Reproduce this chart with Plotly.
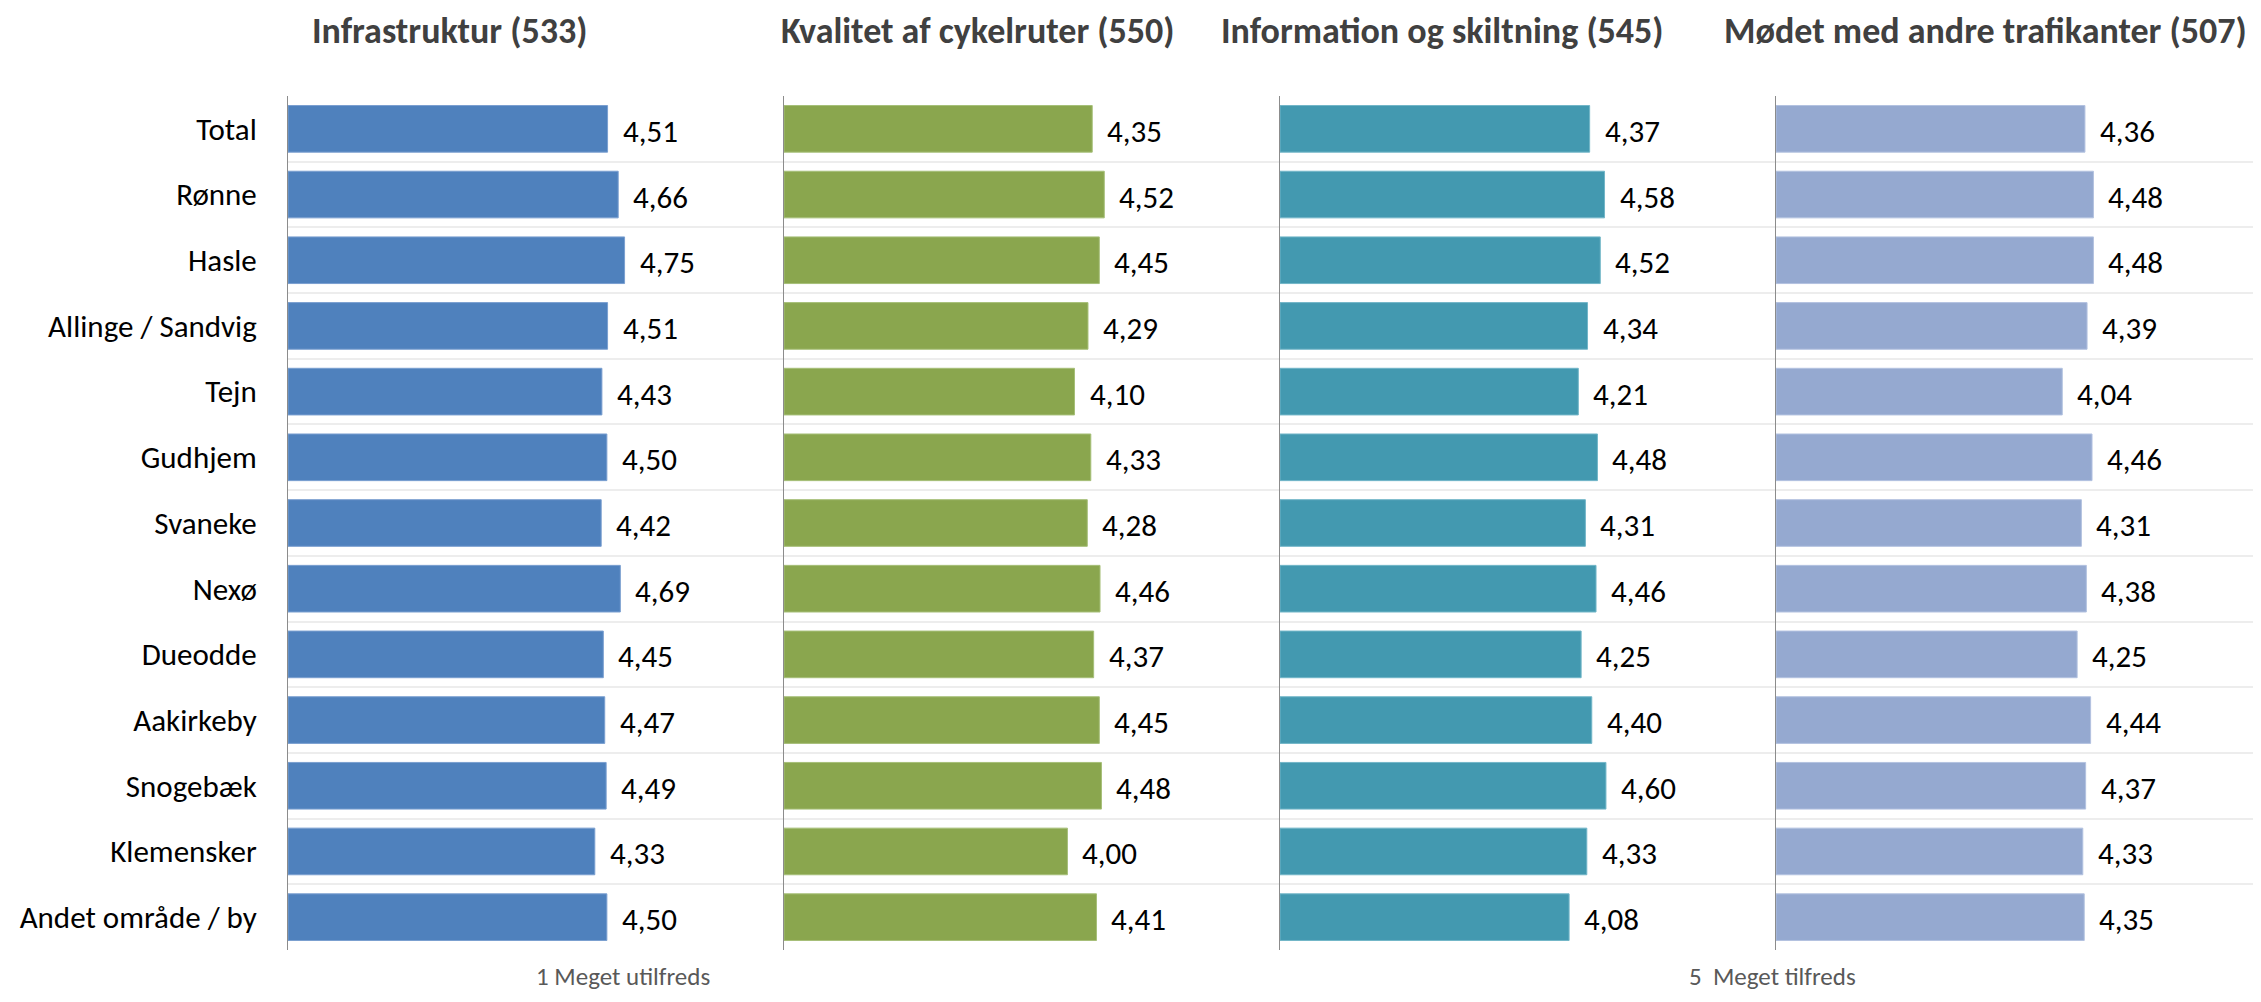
import plotly.graph_objects as go

# data
categories = ["Total", "Rønne", "Hasle", "Allinge / Sandvig", "Tejn", "Gudhjem",
              "Svaneke", "Nexø", "Dueodde", "Aakirkeby", "Snogebæk", "Klemensker",
              "Andet område / by"]
infrastruktur = [4.51, 4.66, 4.75, 4.51, 4.43, 4.50, 4.42, 4.69, 4.45, 4.47, 4.49, 4.33, 4.50]
kvalitet = [4.35, 4.52, 4.45, 4.29, 4.10, 4.33, 4.28, 4.46, 4.37, 4.45, 4.48, 4.00, 4.41]
information = [4.37, 4.58, 4.52, 4.34, 4.21, 4.48, 4.31, 4.46, 4.25, 4.40, 4.60, 4.33, 4.08]
modet = [4.36, 4.48, 4.48, 4.39, 4.04, 4.46, 4.31, 4.38, 4.25, 4.44, 4.37, 4.33, 4.35]
titles = ["Infrastruktur (533)", "Kvalitet af cykelruter (550)",
          "Information og skiltning (545)", "Mødet med andre trafikanter (507)"]
scale_labels = ["1 Meget utilfreds", "5  Meget tilfreds"]

# page body has an 8px margin, so the figure is drawn 8px in from the corner
OFF = 8
W, H = 2261 - 2 * OFF, 1002 - 2 * OFF
TOP, BOTTOM = 96 - OFF, H - (950 - OFF)
PLOT_H = H - TOP - BOTTOM
PX_PER_UNIT = 496 / 7.0
panel_left = [288, 784, 1280, 1776]
panel_right = [784, 1280, 1776, 2261]
title_center = [449, 978, 1442, 1985]
scale_center = [623, 1772]
colors = ["#4F81BD", "#8AA64E", "#4399B0", "#95A9D0"]
edge = ["#7A9FD0", "#A6BF78", "#72B6C8", "#B3C2E0"]

FONT = "Calibri, Carlito, Lato, sans-serif"
series = [infrastruktur, kvalitet, information, modet]


def px(x):
    return (x - OFF) / W


fig = go.Figure()
annotations = []
for i, vals in enumerate(series):
    n = i + 1
    xa = "x" if n == 1 else f"x{n}"
    ya = "y" if n == 1 else f"y{n}"
    fig.add_trace(go.Bar(
        x=vals, y=categories, orientation="h", xaxis=xa, yaxis=ya,
        marker=dict(color=colors[i], line=dict(color=edge[i], width=1)),
        showlegend=False, hoverinfo="x+y",
    ))
    for v, c in zip(vals, categories):
        annotations.append(dict(
            x=v, y=c, xref=xa, yref=ya, text=f"{v:.2f}".replace(".", ","),
            showarrow=False, xanchor="left", yanchor="middle", xshift=13, yshift=-2,
            font=dict(family=FONT, size=31, color="#000000"),
        ))
    annotations.append(dict(
        x=px(title_center[i]), y=1 + (96 - 31) / PLOT_H, xref="paper", yref="paper",
        text=f"<b>{titles[i]}</b>", showarrow=False, xanchor="center", yanchor="middle",
        font=dict(family=FONT, size=36, color="#404040"),
    ))
    right = min(panel_right[i], 2261 - OFF)
    dom = [px(panel_left[i]), min(px(right), 1.0)]
    rng = [0, (right - panel_left[i]) / PX_PER_UNIT]
    fig.update_layout(**{
        ("xaxis" if n == 1 else f"xaxis{n}"): dict(
            domain=dom, range=rng, showgrid=False, zeroline=False,
            showticklabels=False, anchor=ya, automargin=False),
        ("yaxis" if n == 1 else f"yaxis{n}"): dict(
            type="category", categoryorder="array", categoryarray=categories,
            autorange="reversed", anchor=xa, tickson="boundaries",
            showgrid=True, gridcolor="#EDEDED", gridwidth=1.5,
            showline=True, linecolor="#8C8C8C", linewidth=1,
            ticks="", showticklabels=(n == 1), ticklabelstandoff=24,
            tickfont=dict(family=FONT, size=31, color="#000000"),
            automargin=False),
    })

for lbl, cx in zip(scale_labels, scale_center):
    annotations.append(dict(
        x=px(cx), y=-(977 - 950) / PLOT_H, xref="paper", yref="paper",
        text=lbl.replace("  ", "&nbsp; "), showarrow=False, xanchor="center", yanchor="middle",
        font=dict(family=FONT, size=25, color="#595959"),
    ))

fig.update_layout(
    width=W, height=H,
    margin=dict(l=0, r=0, t=TOP, b=BOTTOM),
    bargap=0.29,
    plot_bgcolor="white", paper_bgcolor="white",
    annotations=annotations,
)

fig.write_html("out.html")
